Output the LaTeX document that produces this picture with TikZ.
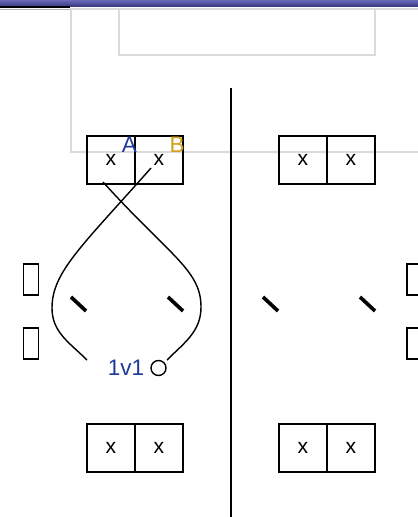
\documentclass[tikz,border=0pt]{standalone}
\usepackage{fontspec}
\setmainfont{Liberation Sans}
\usetikzlibrary{positioning}

\definecolor{teamA}{HTML}{1F3A9A}
\definecolor{teamB}{HTML}{D4A017}
\definecolor{framegray}{HTML}{DADADA}
\definecolor{bartop}{HTML}{6A6AB8}
\definecolor{barbot}{HTML}{34347E}

\tikzset{
  cell/.style={draw, line width=1.4pt, minimum size=1.2cm, inner sep=0pt, font=\fontsize{15}{15}\selectfont},
  bench/.style={draw, line width=1.4pt, minimum width=0.375cm, minimum height=0.78cm, inner sep=0pt},
  ball/.style={draw, circle, line width=1pt, minimum size=0.375cm, inner sep=0pt},
  tag/.style={inner sep=0pt, font=\fontsize{16}{16}\selectfont},
  cone/.style={line width=2.6pt},
  run/.style={line width=1pt},
}

\begin{document}
\begin{tikzpicture}[x=0.025cm,y=-0.025cm]
\useasboundingbox (0,0) rectangle (418,517);

% Top bar
\shade[top color=bartop,bottom color=barbot] (0,0) rectangle (418,7);
\fill[black] (0,6) rectangle (70,8.5);
\draw[gray!60,line width=0.7pt] (0,9.3) -- (418,9.3);

% Frame
\draw[framegray,line width=1.2pt] (71,9) rectangle (440,152);
\draw[framegray,line width=1.2pt] (119,9) rectangle (375,55);

% Net
\coordinate (netTop) at (231,88);
\coordinate (netBot) at (231,517);
\draw[line width=1.4pt] (netTop) -- (netBot);

% Goals
\node[cell] (a1) at (111,160) {x};
\node[cell] (a2) at (159,160) {x};
\node[cell] (b1) at (303,160) {x};
\node[cell] (b2) at (351,160) {x};
\node[cell] (c1) at (111,448) {x};
\node[cell] (c2) at (159,448) {x};
\node[cell] (d1) at (303,448) {x};
\node[cell] (d2) at (351,448) {x};

% Players
\node[tag,text=teamA] (labA) at (129.5,145) {A};
\node[tag,text=teamB] (labB) at (177,145) {B};

% Benches
\node[bench] (benchL1) at (31,279.5) {};
\node[bench] (benchL2) at (31,343.5) {};
\node[bench] (benchR1) at (414.5,279.5) {};
\node[bench] (benchR2) at (414.5,343.5) {};

% Cones
\draw[cone] (71,297) -- (86,311);
\draw[cone] (168,297) -- (183,311);
\draw[cone] (263,297) -- (278,311);
\draw[cone] (360,297) -- (375,311);

% Runs
\coordinate (startA) at (103,182);
\coordinate (startB) at (151,168);
\coordinate (endA) at (167,360);
\coordinate (endB) at (87,360);
\draw[run] (startA) .. controls (170,256) and (201,270) .. (201,307) to[out=-90,in=45] (endA);
\draw[run] (startB) .. controls (82,246) and (52,272) .. (52,308) to[out=-90,in=135] (endB);

% Ball
\node[ball] (ball) at (158.5,368) {};
\node[tag,text=teamA] (duel) at (126,368) {1v1};

\end{tikzpicture}
\end{document}
